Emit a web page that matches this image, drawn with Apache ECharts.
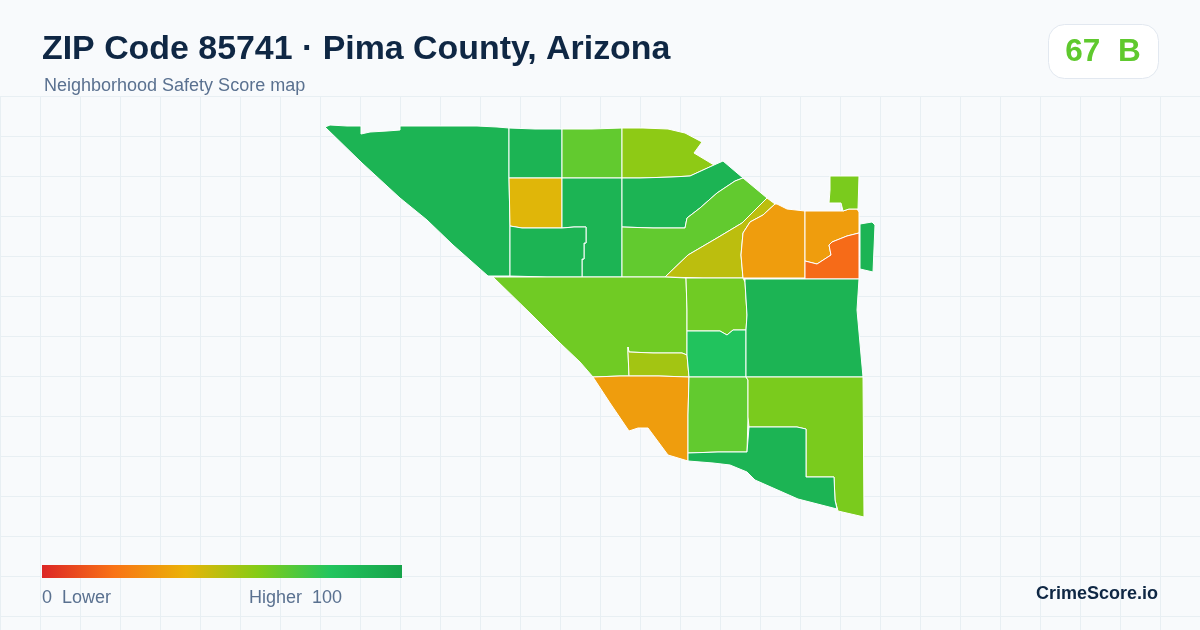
<!DOCTYPE html>
<html>
<head>
<meta charset="utf-8">
<style>html,body{margin:0;padding:0;background:#f8fafc}#c{width:1200px;height:630px}</style>
<script src="https://cdn.jsdelivr.net/npm/echarts@6/dist/echarts.min.js"></script>
</head>
<body>
<div id="c"></div>
<script>
const titleText = 'ZIP Code 85741 · Pima County, Arizona';
const subtitleText = 'Neighborhood Safety Score map';
const badgeText = '67  B';
const legendLow = '0  Lower';
const legendHigh = 'Higher  100';
const brandText = 'CrimeScore.io';
const legendColors = ['#dc2626', '#f97316', '#eab308', '#84cc16', '#22c55e', '#16a34a'];

const tractNames = ['A','B','C','D','E','F','G','H','I','J','K','L','M','N','O','P','Q','R','S','T','U','V','W','X'];
const tractScores = [90,90,67,58,42,90,90,90,67,49,33,33,18,62,90,64,54,64,81,90,33,67,62,90];
const tractRings = [
  [[325,127],[330,125],[347,126],[361,126],[361,134],[370,132],[387,131],[400,130],[400,126],[477,126],[497,127],[509,128],[509,153],[509,178],[510,226],[510,276],[488,276],[453,245],[427,220],[400,198],[362,163]],
  [[509,128],[535,129],[562,129],[562,178],[522,178],[509,178],[509,153]],
  [[562,129],[592,129],[622,128],[622,178],[562,178]],
  [[622,128],[643,128],[668,129],[685,133],[702,142],[694,153],[714,165],[690,176],[672,177],[640,178],[622,178]],
  [[509,178],[522,178],[562,178],[562,228],[522,228],[510,226]],
  [[562,178],[622,178],[622,227],[622,277],[582,277],[582,259],[584,259],[584,243],[586,243],[586,227],[574,227],[562,228]],
  [[510,226],[522,228],[562,228],[574,227],[586,227],[586,243],[584,243],[584,259],[582,259],[582,277],[547,277],[510,276]],
  [[622,178],[640,178],[672,177],[690,176],[714,165],[723,161],[743,178],[735,181],[717,193],[700,208],[687,218],[685,228],[653,228],[622,227]],
  [[622,227],[653,228],[685,228],[687,218],[700,208],[717,193],[735,181],[743,178],[767,198],[742,223],[717,238],[688,255],[665,277],[622,277]],
  [[767,198],[775,204],[763,215],[750,222],[743,233],[741,255],[743,278],[703,278],[665,277],[688,255],[717,238],[742,223]],
  [[775,204],[777,204],[787,209],[805,211],[805,278],[743,278],[741,255],[743,233],[750,222],[763,215]],
  [[805,211],[843,211],[849,209],[857,209],[859,212],[859,233],[847,236],[832,242],[829,245],[831,255],[817,264],[805,261]],
  [[805,261],[817,264],[831,255],[829,245],[832,242],[847,236],[859,233],[859,279],[805,279]],
  [[830,176],[859,176],[858,209],[849,209],[843,211],[841,203],[829,203],[830,190]],
  [[860,224],[872,222],[875,225],[873,272],[860,269]],
  [[493,277],[547,277],[582,277],[622,277],[665,277],[686,278],[687,310],[687,331],[687,355],[682,353],[653,353],[629,352],[628,347],[628,352],[629,376],[620,376],[593,377],[580,362],[560,343],[532,315]],
  [[628,347],[629,352],[653,353],[682,353],[687,355],[689,377],[659,376],[629,376],[628,352]],
  [[686,278],[703,278],[743,278],[745,282],[747,315],[746,330],[733,330],[727,335],[720,331],[687,331],[687,310]],
  [[687,331],[720,331],[727,335],[733,330],[746,330],[746,377],[717,377],[689,377],[687,355]],
  [[745,279],[859,279],[857,310],[863,377],[746,377],[746,330],[747,315],[745,282]],
  [[593,377],[620,376],[629,376],[659,376],[689,377],[688,415],[688,461],[668,455],[648,428],[638,428],[629,431],[610,403]],
  [[689,377],[717,377],[746,377],[748,380],[748,417],[747,452],[718,452],[688,453],[688,415]],
  [[746,377],[863,377],[864,517],[838,511],[835,500],[834,477],[806,477],[806,429],[797,427],[749,427],[748,417],[748,380]],
  [[688,453],[718,452],[747,452],[749,427],[797,427],[806,429],[806,477],[834,477],[835,500],[837,509],[798,499],[755,480],[747,472],[730,465],[713,463],[688,461]]
];

const geoJson = {
  type: 'FeatureCollection',
  features: tractNames.map((n, i) => ({
    type: 'Feature',
    properties: { name: n },
    geometry: { type: 'Polygon', coordinates: [tractRings[i].concat([tractRings[i][0]])] }
  }))
};
echarts.registerMap('zip85741', geoJson);

const fontFamily = '"Liberation Sans", Arial, sans-serif';
const textColor = '#5a7190';
const chart = echarts.init(document.getElementById('c'), null, { renderer: 'canvas' });
chart.setOption({
  animation: false,
  backgroundColor: '#f8fafc',
  title: [
    { text: titleText, left: 42, top: 33, padding: 0,
      textStyle: { color: '#0f2744', fontFamily, fontWeight: 'bold', fontSize: 33.9 } },
    { text: subtitleText, left: 44, top: 77, padding: 0,
      textStyle: { color: textColor, fontFamily, fontWeight: 'normal', fontSize: 18 } }
  ],
  grid: { left: 0, top: 96, width: 1200, height: 534 },
  xAxis: { type: 'value', min: 0, max: 1200, interval: 40, position: 'top',
    axisLine: { show: false }, axisTick: { show: false }, axisLabel: { show: false },
    splitLine: { show: true, lineStyle: { color: '#e8eff3', width: 1 } } },
  yAxis: { type: 'value', min: 0, max: 534, interval: 40, inverse: true,
    axisLine: { show: false }, axisTick: { show: false }, axisLabel: { show: false },
    splitLine: { show: true, lineStyle: { color: '#e8eff3', width: 1 } } },
  visualMap: {
    type: 'continuous', min: 0, max: 100, show: false, seriesIndex: 0,
    inRange: { color: legendColors }
  },
  series: [{
    type: 'map', map: 'zip85741',
    projection: { project: p => [p[0], p[1]], unproject: p => [p[0], p[1]] },
    left: 325, top: 125, width: 550, height: 392,
    roam: false, silent: true, selectedMode: false,
    label: { show: false },
    itemStyle: { borderColor: '#ffffff', borderWidth: 1 },
    emphasis: { disabled: true },
    data: tractNames.map((n, i) => ({ name: n, value: tractScores[i] }))
  }],
  graphic: [
    { type: 'rect', z: 100, shape: { x: 1048.5, y: 24.5, width: 110, height: 54, r: 16 },
      style: { fill: '#ffffff', stroke: '#e2e8f0', lineWidth: 1 } },
    { type: 'text', z: 100, x: 1103, y: 52, style: { text: badgeText, fill: '#5fc92e', font: 'bold 31.5px ' + fontFamily, textAlign: 'center', textVerticalAlign: 'middle' } },
    { type: 'rect', z: 100, shape: { x: 42, y: 565, width: 360, height: 13 },
      style: { fill: new echarts.graphic.LinearGradient(0, 0, 1, 0,
        legendColors.map((color, i) => ({ offset: i / (legendColors.length - 1), color }))) } },
    { type: 'text', z: 100, x: 42, y: 598, style: { text: legendLow, fill: textColor, font: '18px ' + fontFamily, textAlign: 'left', textVerticalAlign: 'middle' } },
    { type: 'text', z: 100, x: 249, y: 598, style: { text: legendHigh, fill: textColor, font: '18px ' + fontFamily, textAlign: 'left', textVerticalAlign: 'middle' } },
    { type: 'text', z: 100, x: 1158, y: 594, style: { text: brandText, fill: '#0f2744', font: 'bold 18px ' + fontFamily, textAlign: 'right', textVerticalAlign: 'middle' } }
  ]
});
</script>
</body>
</html>
